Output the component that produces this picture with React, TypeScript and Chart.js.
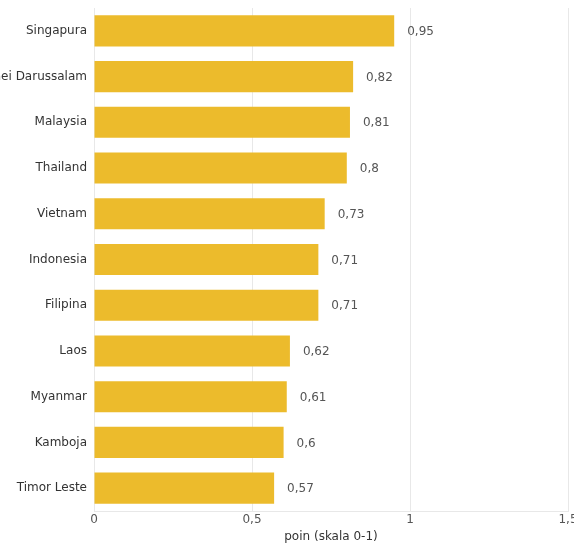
import React, { useEffect, useRef } from "react";
import { Chart, registerables } from "chart.js";

Chart.register(...registerables);

const categories = [
  "Singapura",
  "Brunei Darussalam",
  "Malaysia",
  "Thailand",
  "Vietnam",
  "Indonesia",
  "Filipina",
  "Laos",
  "Myanmar",
  "Kamboja",
  "Timor Leste",
];
const values = [0.95, 0.82, 0.81, 0.8, 0.73, 0.71, 0.71, 0.62, 0.61, 0.6, 0.57];
const xTicks = [0, 0.5, 1, 1.5];
const axisTitle = "poin (skala 0-1)";

const FONT = "DejaVu Sans";
const fmt = (v: number) => String(v).replace(".", ",");

const valueLabels = {
  id: "valueLabels",
  afterDatasetsDraw(chart: any) {
    const ctx = chart.ctx;
    const meta = chart.getDatasetMeta(0);
    ctx.save();
    ctx.font = `12px "${FONT}"`;
    ctx.fillStyle = "#555555";
    ctx.textAlign = "left";
    ctx.textBaseline = "middle";
    meta.data.forEach((bar: any, i: number) => {
      ctx.fillText(fmt(values[i]), bar.x + 13, bar.y + 1);
    });
    ctx.restore();
  },
};

export default function App() {
  const ref = useRef<HTMLCanvasElement>(null);
  useEffect(() => {
    const chart = new Chart(ref.current!, {
      type: "bar",
      data: {
        labels: categories,
        datasets: [
          {
            data: values,
            backgroundColor: "#ECBB2C",
            borderWidth: 0,
            categoryPercentage: 1,
            barPercentage: 0.68,
          },
        ],
      },
      options: {
        indexAxis: "y",
        animation: false,
        responsive: false,
        maintainAspectRatio: false,
        layout: { padding: { top: 8, right: 6, left: 0, bottom: 0 } },
        plugins: { legend: { display: false }, tooltip: { enabled: false } },
        scales: {
          x: {
            min: 0,
            max: 1.5,
            afterBuildTicks: (s: any) => {
              s.ticks = xTicks.map((v) => ({ value: v }));
            },
            afterFit: (s: any) => {
              s.paddingRight = 0;
              s.paddingLeft = 0;
              s.height = 32;
            },
            ticks: {
              font: { family: FONT, size: 12 },
              color: "#555555",
              padding: 2,
              callback: (v: any) => fmt(Number(v)),
            },
            grid: { color: "#e8e8e8", tickLength: 0 },
            border: { color: "#e8e8e8" },
            title: {
              display: true,
              text: axisTitle,
              font: { family: FONT, size: 12 },
              color: "#333333",
              padding: { top: 2, bottom: -1 },
            },
          },
          y: {
            afterFit: (s: any) => {
              s.width = 94;
              s.paddingTop = 0;
              s.paddingBottom = 0;
            },
            grid: { display: false, tickLength: 0 },
            border: { display: false },
            ticks: {
              font: { family: FONT, size: 12 },
              color: "#333333",
              padding: 7,
            },
          },
        },
      },
      plugins: [valueLabels],
    });
    return () => chart.destroy();
  }, []);
  return (
    <div style={{ position: "fixed", left: 0, top: 0, width: 574, height: 543, background: "#fff" }}>
      <canvas ref={ref} width={574} height={543} style={{ width: 574, height: 543 }} />
    </div>
  );
}
